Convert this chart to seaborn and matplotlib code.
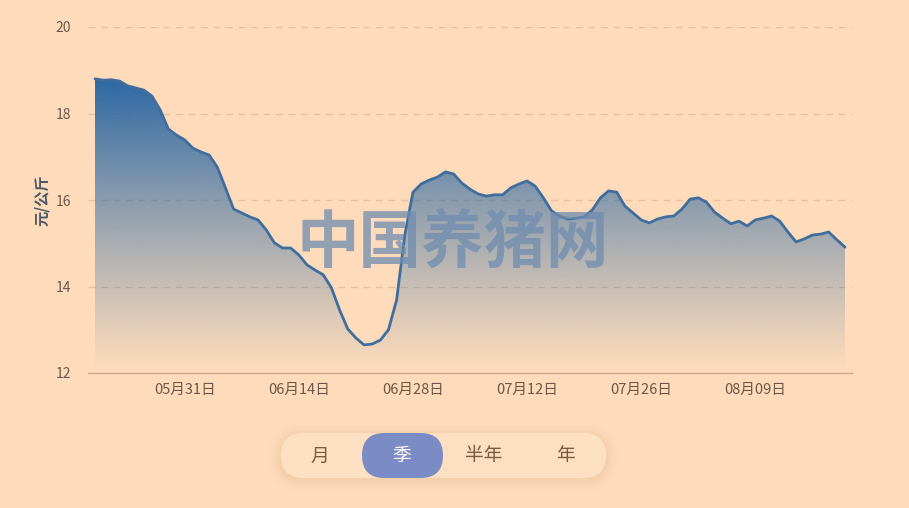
import numpy as np
import pandas as pd
import matplotlib
matplotlib.use("Agg")
import matplotlib.pyplot as plt
import seaborn as sns
from matplotlib.patches import FancyBboxPatch, Polygon
from matplotlib.colors import to_rgb

# ---- data ----
start_date = "2023-05-20"
end_date = "2023-08-20"
prices = [18.80, 18.77, 18.78, 18.75, 18.64, 18.59, 18.54, 18.40, 18.08, 17.64,
          17.50, 17.39, 17.20, 17.11, 17.04, 16.76, 16.28, 15.79, 15.70, 15.61,
          15.54, 15.31, 15.01, 14.89, 14.89, 14.73, 14.50, 14.38, 14.27, 13.97,
          13.46, 13.02, 12.81, 12.65, 12.67, 12.76, 13.00, 13.69, 15.19, 16.18,
          16.37, 16.46, 16.53, 16.65, 16.60, 16.39, 16.25, 16.14, 16.09, 16.12,
          16.12, 16.28, 16.37, 16.44, 16.32, 16.05, 15.75, 15.63, 15.56, 15.58,
          15.61, 15.77, 16.05, 16.21, 16.18, 15.86, 15.70, 15.54, 15.47, 15.56,
          15.61, 15.63, 15.79, 16.02, 16.05, 15.95, 15.72, 15.58, 15.45, 15.51,
          15.40, 15.54, 15.58, 15.63, 15.51, 15.26, 15.03, 15.10, 15.19, 15.21,
          15.26, 15.08, 14.91]
tick_labels = ["05月31日", "06月14日", "06月28日", "07月12日", "07月26日", "08月09日"]
tick_dates = ["2023-05-31", "2023-06-14", "2023-06-28", "2023-07-12", "2023-07-26", "2023-08-09"]
y_ticks = [12, 14, 16, 18, 20]
buttons = ["月", "季", "半年", "年"]
selected = "季"
y_label = "元/公斤"
watermark = "中国养猪网"

dates = pd.date_range(start_date, end_date, freq="D")
df = pd.DataFrame({"date": dates, "price": prices})
df["x"] = (df["date"] - dates[0]).dt.days

BG = "#fedcbb"
LINE = "#3f6e9e"
TXT = "#6b5848"

sns.set_style("white")
plt.rcParams['font.family'] = ['Noto Sans CJK SC', 'DejaVu Sans']

W, H = 909, 508
fig = plt.figure(figsize=(W / 100, H / 100), dpi=100)
fig.patch.set_facecolor(BG)
ax = fig.add_axes([88/W, 135/H, (852-88)/W, (373-27)/H])
ax.set_facecolor(BG)

n = len(df)
xmin, xmax = -0.86, (n - 1) + 0.86
ax.set_xlim(xmin, xmax)
ax.set_ylim(12, 20)

# gradient fill
top_c = np.array(to_rgb("#2c68a4"))
ny = 256
grad = np.zeros((ny, 1, 4))
t = np.linspace(1, 0, ny)[:, None]
grad[..., :3] = top_c
grad[..., 3] = t ** 1.1
ymax_data = max(prices)
im = ax.imshow(grad, aspect="auto", extent=[df["x"].min(), df["x"].max(), 12, ymax_data],
               origin="upper", zorder=2, interpolation="bicubic")
verts = [(df["x"].iloc[0], 12)] + list(zip(df["x"], df["price"])) + [(df["x"].iloc[-1], 12)]
clip = Polygon(verts, closed=True, transform=ax.transData, facecolor="none", edgecolor="none")
ax.add_patch(clip)
im.set_clip_path(clip)

sns.lineplot(data=df, x="x", y="price", ax=ax, color=LINE, linewidth=2.0, zorder=4)

for yv in y_ticks[1:]:
    ax.axhline(yv, color="#e9bfa0", linewidth=1.0, linestyle=(0, (5, 4)), zorder=1)

ax.set_yticks(y_ticks)
ax.set_yticklabels([str(v) for v in y_ticks])
tick_x = [(pd.Timestamp(d) - dates[0]).days for d in tick_dates]
ax.set_xticks(tick_x)
ax.set_xticklabels(tick_labels)
ax.tick_params(axis="y", length=0, pad=12, labelsize=10, labelcolor=TXT)
ax.tick_params(axis="x", length=5, width=1, color="#c9a88e", pad=2, labelsize=10.5, labelcolor=TXT)
for s in ["top", "right", "left"]:
    ax.spines[s].set_visible(False)
ax.spines["bottom"].set_color("#c9a88e")
ax.spines["bottom"].set_linewidth(1.0)
ax.set_xlabel("")
ax.set_ylabel("")

fig.text(42/W, 1 - 200/H, y_label, rotation=90, ha="center", va="center",
         fontsize=11, fontweight="bold", color="#4d5966")

fig.text(453/W, 1 - 243/H, watermark, ha="center", va="center", fontsize=45,
         fontweight="bold", color="#6f8cae", alpha=0.75, zorder=10)

# overlay axes in pixel coordinates for the button bar
ov = fig.add_axes([0, 0, 1, 1], zorder=20)
ov.set_xlim(0, W)
ov.set_ylim(H, 0)
ov.axis("off")
ov.patch.set_alpha(0)

for i, a in enumerate([0.06, 0.045, 0.03, 0.02, 0.012]):
    e = (i + 1) * 2.5
    ov.add_patch(FancyBboxPatch((281 - e, 433 - e + 2), 325 + 2 * e, 45 + 2 * e,
                                boxstyle=f"round,pad=0,rounding_size={22.5 + e}",
                                facecolor="#c89870", edgecolor="none", alpha=a))
ov.add_patch(FancyBboxPatch((281, 433), 325, 45, boxstyle="round,pad=0,rounding_size=22.5",
                            facecolor="#fde0c1", edgecolor="none"))
ov.add_patch(FancyBboxPatch((362, 433), 81, 45, boxstyle="round,pad=0,rounding_size=22.5",
                            facecolor="#7b8bc5", edgecolor="none"))

btn_x = [320, 402, 484, 565]
for lbl, bx in zip(buttons, btn_x):
    ov.text(bx, 456, lbl, ha="center", va="center", fontsize=13.5,
            color="white" if lbl == selected else "#7a5a42")

fig.savefig("out.png", dpi=100, facecolor=BG)
